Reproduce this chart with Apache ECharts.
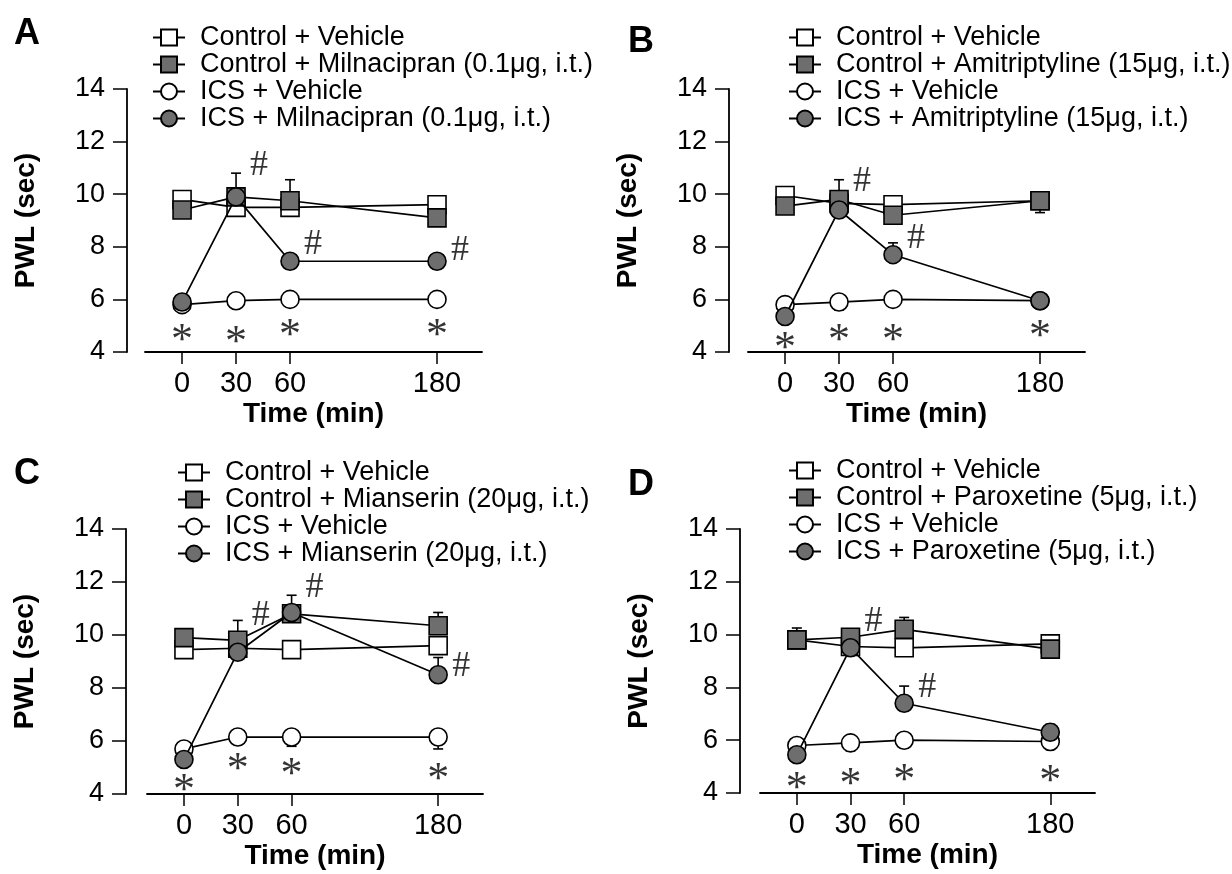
<!DOCTYPE html>
<html>
<head>
<meta charset="UTF-8"/>
<title>PWL time course</title>
<script src="https://cdn.jsdelivr.net/npm/echarts@6.0.0/dist/echarts.min.js"></script>
<style>
html, body { margin: 0; padding: 0; background: #fff; }
#chart { width: 1232px; height: 874px; }
</style>
</head>
<body>
<div id="chart"></div>
<script>
// time points (min) and drugs
var times = [0, 30, 60, 180];
var drugs = ['Milnacipran (0.1\u03bcg, i.t.)', 'Amitriptyline (15\u03bcg, i.t.)',
             'Mianserin (20\u03bcg, i.t.)', 'Paroxetine (5\u03bcg, i.t.)'];
var letters = ['A', 'B', 'C', 'D'];

// A - milnacipran
var aCtrlVeh  = [9.8, 9.5, 9.5, 9.6];
var aCtrlDrug = [9.4, 9.9, 9.75, 9.1];
var aIcsVeh   = [5.8, 5.95, 6.0, 6.0];
var aIcsDrug  = [5.9, 9.9, 7.45, 7.45];
// SEM, sign = direction the bar is drawn
var aCtrlVehErr  = [0.3, -0.3, -0.3, 0];
var aCtrlDrugErr = [0, 0, 0.8, 0];
var aIcsVehErr   = [-0.15, -0.15, 0, 0];
var aIcsDrugErr  = [0, 0.9, 0, 0];
var aStars  = [4.85, 4.8, 5.05, 5.05];
var aHashes = [[30, 11.1], [60, 8.1], [180, 7.85]];

// B - amitriptyline
var bCtrlVeh  = [9.95, 9.65, 9.6, 9.75];
var bCtrlDrug = [9.55, 9.8, 9.2, 9.75];
var bIcsVeh   = [5.8, 5.9, 6.0, 5.95];
var bIcsDrug  = [5.35, 9.4, 7.7, 5.95];
var bCtrlVehErr  = [0.3, 0, 0, 0];
var bCtrlDrugErr = [0, 0.75, 0, -0.45];
var bIcsVehErr   = [0, -0.3, 0, -0.2];
var bIcsDrugErr  = [0, 0, 0.45, 0];
var bStars  = [4.55, 4.85, 4.85, 5.0];
var bHashes = [[30, 10.5], [60, 8.3]];

// C - mianserin
var cCtrlVeh  = [9.45, 9.5, 9.45, 9.6];
var cCtrlDrug = [9.9, 9.8, 10.8, 10.35];
var cIcsVeh   = [5.7, 6.15, 6.15, 6.15];
var cIcsDrug  = [5.3, 9.35, 10.85, 8.5];
var cCtrlVehErr  = [0, 0, 0, 0];
var cCtrlDrugErr = [0.15, 0.75, 0.7, 0.5];
var cIcsVehErr   = [0, 0, -0.35, -0.45];
var cIcsDrugErr  = [0, 0, 0, 0.65];
var cStars  = [4.55, 5.35, 5.15, 4.95];
var cHashes = [[30, 10.75], [60, 11.8], [180, 8.8]];

// D - paroxetine
var dCtrlVeh  = [9.8, 9.55, 9.5, 9.65];
var dCtrlDrug = [9.8, 9.9, 10.2, 9.45];
var dIcsVeh   = [5.8, 5.9, 6.0, 5.95];
var dIcsDrug  = [5.45, 9.5, 7.4, 6.3];
var dCtrlVehErr  = [0, 0, 0, 0];
var dCtrlDrugErr = [0.45, 0, 0.45, 0];
var dIcsVehErr   = [0, -0.3, 0, -0.3];
var dIcsDrugErr  = [0, 0, 0.65, 0.3];
var dStars  = [4.6, 4.75, 4.9, 4.85];
var dHashes = [[30, 10.5], [60, 8.0]];

var panels = [
  {vals: [aCtrlVeh, aCtrlDrug, aIcsVeh, aIcsDrug], errs: [aCtrlVehErr, aCtrlDrugErr, aIcsVehErr, aIcsDrugErr], stars: aStars, hashes: aHashes},
  {vals: [bCtrlVeh, bCtrlDrug, bIcsVeh, bIcsDrug], errs: [bCtrlVehErr, bCtrlDrugErr, bIcsVehErr, bIcsDrugErr], stars: bStars, hashes: bHashes},
  {vals: [cCtrlVeh, cCtrlDrug, cIcsVeh, cIcsDrug], errs: [cCtrlVehErr, cCtrlDrugErr, cIcsVehErr, cIcsDrugErr], stars: cStars, hashes: cHashes},
  {vals: [dCtrlVeh, dCtrlDrug, dIcsVeh, dIcsDrug], errs: [dCtrlVehErr, dCtrlDrugErr, dIcsVehErr, dIcsDrugErr], stars: dStars, hashes: dHashes}
];

// layout
var grids = [
  {left: 145, top: 89, width: 337, height: 263},
  {left: 748, top: 89, width: 337, height: 263},
  {left: 147, top: 529, width: 336, height: 265},
  {left: 760, top: 529, width: 335, height: 264}
];
var yOffsets = [18, 19, 21, 20];
var legendPos = [[152, 24], [788, 24], [177, 459], [788, 457]];
var letterPos = [[14, 16], [628, 24], [14, 456], [628, 467]];

var FONT = 'Liberation Sans';
var GRAY = '#6e6e6e';

var myChart = echarts.init(document.getElementById('chart'));

var xAxes = [], lineAxes = [], yAxes = [], series = [], legends = [], titles = [];

panels.forEach(function (p, k) {
  var names = ['Control + Vehicle', 'Control + ' + drugs[k], 'ICS + Vehicle', 'ICS + ' + drugs[k]];
  var syms = ['rect', 'rect', 'circle', 'circle'];
  var fills = ['#fff', GRAY, '#fff', GRAY];

  // time axis with a break between 60 and 180 min
  xAxes.push({
    gridIndex: k, type: 'value', min: -20.6, max: 205, position: 'bottom',
    breaks: [{start: 80, end: 170, gap: '27.6%'}],
    breakArea: {show: false},
    axisLine: {show: false, onZero: false},
    axisTick: {show: true, length: 12, customValues: times, lineStyle: {color: '#000', width: 1.5}},
    axisLabel: {customValues: times, fontSize: 29, margin: 17, color: '#000', fontFamily: FONT},
    splitLine: {show: false},
    name: 'Time (min)', nameLocation: 'middle', nameGap: 48,
    nameTextStyle: {fontSize: 28, fontWeight: 'bold', color: '#000', fontFamily: FONT}
  });
  // plain axis just for the continuous baseline
  lineAxes.push({
    gridIndex: k, type: 'value', min: 0, max: 1, position: 'bottom', offset: 0,
    axisLine: {show: true, onZero: false, lineStyle: {color: '#000', width: 1.8}},
    axisTick: {show: false}, axisLabel: {show: false}, splitLine: {show: false}
  });
  yAxes.push({
    gridIndex: k, type: 'value', min: 4, max: 14, interval: 2, offset: yOffsets[k],
    axisLine: {show: true, onZero: false, lineStyle: {color: '#000', width: 1.8}},
    axisTick: {show: true, length: 14, lineStyle: {color: '#000', width: 1.5}},
    axisLabel: {fontSize: 27, margin: 22, color: '#000', fontFamily: FONT},
    splitLine: {show: false},
    name: 'PWL (sec)', nameLocation: 'middle', nameGap: 87, nameRotate: 90,
    nameTextStyle: {fontSize: 28, fontWeight: 'bold', color: '#000', fontFamily: FONT}
  });

  // error bars
  var errData = [];
  p.vals.forEach(function (v, s) {
    p.errs[s].forEach(function (e, j) {
      if (e !== 0) errData.push([times[j], v[j], e]);
    });
  });
  series.push({
    type: 'custom', xAxisIndex: k, yAxisIndex: k, z: 1, silent: true,
    data: errData,
    renderItem: function (params, api) {
      var t = api.value(0), m = api.value(1), e = api.value(2);
      var p0 = api.coord([t, m]);
      var p1 = api.coord([t, m + e]);
      var st = {stroke: '#000', lineWidth: 1.6};
      return {type: 'group', children: [
        {type: 'line', shape: {x1: p0[0], y1: p0[1], x2: p1[0], y2: p1[1]}, style: st},
        {type: 'line', shape: {x1: p1[0] - 5, y1: p1[1], x2: p1[0] + 5, y2: p1[1]}, style: st}
      ]};
    }
  });

  p.vals.forEach(function (v, s) {
    series.push({
      name: names[s], type: 'line', xAxisIndex: k, yAxisIndex: k,
      data: times.map(function (t, j) { return [t, v[j]]; }),
      symbol: syms[s], symbolSize: 18, showSymbol: true, z: 2 + s,
      lineStyle: {color: '#000', width: 1.7},
      itemStyle: {color: fills[s], borderColor: '#000', borderWidth: 1.6},
      emphasis: {disabled: true}
    });
  });

  // significance marks
  series.push({
    type: 'scatter', xAxisIndex: k, yAxisIndex: k, silent: true, z: 10,
    data: times.map(function (t, j) { return [t, p.stars[j]]; }),
    symbolSize: 1, itemStyle: {color: 'rgba(0,0,0,0)'},
    label: {show: true, position: 'inside', formatter: '*', offset: [0, 12],
            fontSize: 44, color: '#000', fontFamily: 'Liberation Serif'}
  });
  series.push({
    type: 'scatter', xAxisIndex: k, yAxisIndex: k, silent: true, z: 10,
    data: p.hashes,
    symbolSize: 1, itemStyle: {color: 'rgba(0,0,0,0)'},
    label: {show: true, position: 'inside', formatter: '#', offset: [23, 0],
            fontSize: 36, color: '#000', fontFamily: 'Liberation Serif'}
  });

  legends.push({
    left: legendPos[k][0], top: legendPos[k][1], orient: 'vertical',
    itemWidth: 32, itemHeight: 20, itemGap: 0, selectedMode: false, padding: 0,
    data: names,
    textStyle: {fontSize: 27, lineHeight: 26, color: '#000', fontFamily: FONT, padding: [0, 0, 0, 10]}
  });
  titles.push({
    text: letters[k], left: letterPos[k][0], top: letterPos[k][1], padding: 0,
    textStyle: {fontSize: 36, fontWeight: 'bold', color: '#000', fontFamily: FONT}
  });
});

var option = {
  animation: false,
  backgroundColor: '#fff',
  title: titles,
  legend: legends,
  grid: grids,
  xAxis: xAxes.concat(lineAxes),
  yAxis: yAxes,
  series: series
};
myChart.setOption(option);
</script>
</body>
</html>
